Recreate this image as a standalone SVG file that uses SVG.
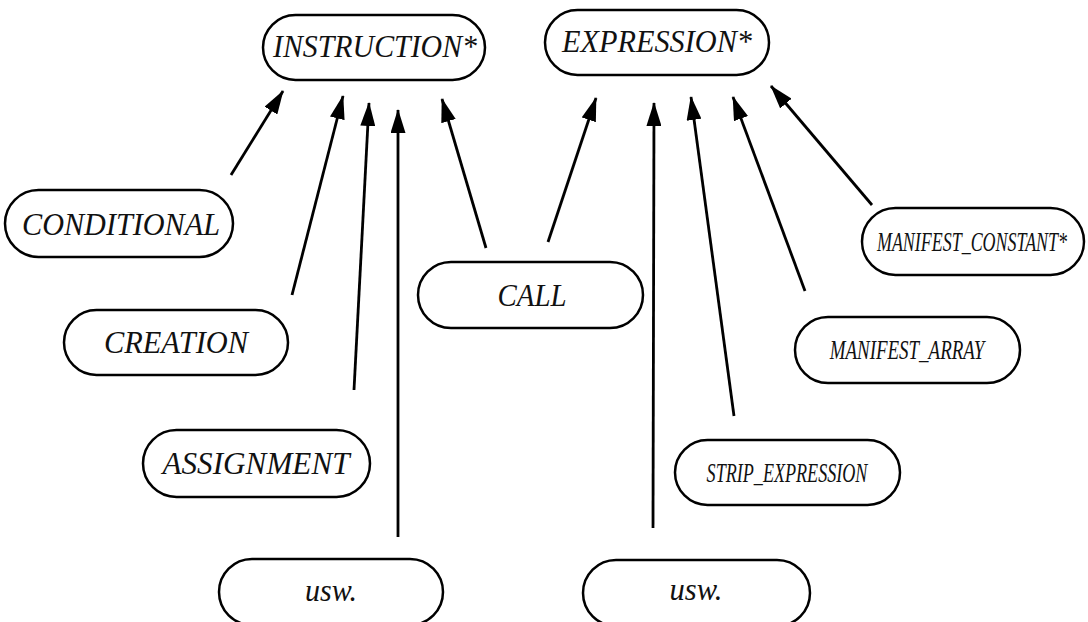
<svg xmlns="http://www.w3.org/2000/svg" width="1088" height="622" viewBox="0 0 1088 622">
  <style>
    .box { fill: #fff; stroke: #000; stroke-width: 2.5; }
    .lbl { font-family: "Liberation Serif", "DejaVu Serif", serif; font-style: italic; font-size: 32px; fill: #111; text-anchor: middle; }
    .sm { font-size: 27px; }
    .edge { stroke: #000; stroke-width: 2.8; fill: none; marker-end: url(#head); }
  </style>
  <defs>
    <marker id="head" viewBox="0 0 24 15" refX="23" refY="7.5" markerWidth="24" markerHeight="15" markerUnits="userSpaceOnUse" orient="auto">
      <path d="M0,0 L24,7.5 L0,15 z" fill="#000"/>
    </marker>
  </defs>

  <rect width="1088" height="622" fill="#fff"/>

  <!-- inheritance links: each child points up to its parent class -->
  <g id="connectors">
    <line class="edge" x1="231" y1="175" x2="283" y2="91"/>
    <line class="edge" x1="292" y1="295" x2="343" y2="96"/>
    <line class="edge" x1="354" y1="390" x2="369" y2="103"/>
    <line class="edge" x1="398" y1="537" x2="398" y2="110"/>
    <line class="edge" x1="486" y1="248" x2="442" y2="99"/>
    <line class="edge" x1="548" y1="242" x2="596" y2="98"/>
    <line class="edge" x1="653" y1="528" x2="654" y2="103"/>
    <line class="edge" x1="734" y1="416" x2="691" y2="97"/>
    <line class="edge" x1="805" y1="291" x2="733" y2="97"/>
    <line class="edge" x1="872" y1="205" x2="771" y2="86"/>
  </g>

  <g id="instruction">
    <rect class="box" x="263" y="15" width="222" height="65" rx="32.5"/>
    <text class="lbl" x="375" y="57" textLength="204" lengthAdjust="spacingAndGlyphs">INSTRUCTION*</text>
  </g>
  <g id="expression">
    <rect class="box" x="545" y="10" width="224" height="65" rx="32.5"/>
    <text class="lbl" x="657" y="52" textLength="190" lengthAdjust="spacingAndGlyphs">EXPRESSION*</text>
  </g>
  <g id="conditional">
    <rect class="box" x="5" y="190" width="228" height="67" rx="33.5"/>
    <text class="lbl" x="121" y="235" textLength="198" lengthAdjust="spacingAndGlyphs">CONDITIONAL</text>
  </g>
  <g id="creation">
    <rect class="box" x="64" y="310" width="224" height="65" rx="32.5"/>
    <text class="lbl" x="176" y="353" textLength="144" lengthAdjust="spacingAndGlyphs">CREATION</text>
  </g>
  <g id="assignment">
    <rect class="box" x="143" y="430" width="227" height="67" rx="33.5"/>
    <text class="lbl" x="256" y="474" textLength="187" lengthAdjust="spacingAndGlyphs">ASSIGNMENT</text>
  </g>
  <g id="usw-instruction">
    <rect class="box" x="219" y="559" width="224" height="66" rx="33"/>
    <text class="lbl" x="331" y="601" textLength="52" lengthAdjust="spacingAndGlyphs">usw.</text>
  </g>
  <g id="call">
    <rect class="box" x="418" y="262" width="225" height="66" rx="33"/>
    <text class="lbl" x="532" y="306" textLength="69" lengthAdjust="spacingAndGlyphs">CALL</text>
  </g>
  <!-- long class names are set in a horizontally condensed face -->
  <g id="manifest-constant">
    <rect class="box" x="862" y="208" width="222" height="67" rx="33.5"/>
    <text class="lbl sm" transform="translate(972,251) scale(0.66,1)" x="0" y="0" textLength="288" lengthAdjust="spacingAndGlyphs">MANIFEST_CONSTANT*</text>
  </g>
  <g id="manifest-array">
    <rect class="box" x="795" y="317" width="225" height="66" rx="33"/>
    <text class="lbl sm" transform="translate(907,359) scale(0.7,1)" x="0" y="0" textLength="221" lengthAdjust="spacingAndGlyphs">MANIFEST_ARRAY</text>
  </g>
  <g id="strip-expression">
    <rect class="box" x="675" y="440" width="225" height="65" rx="32.5"/>
    <text class="lbl sm" transform="translate(787,482) scale(0.67,1)" x="0" y="0" textLength="240" lengthAdjust="spacingAndGlyphs">STRIP_EXPRESSION</text>
  </g>
  <g id="usw-expression">
    <rect class="box" x="583" y="560" width="227" height="66" rx="33"/>
    <text class="lbl" x="696" y="600" textLength="53" lengthAdjust="spacingAndGlyphs">usw.</text>
  </g>
</svg>
